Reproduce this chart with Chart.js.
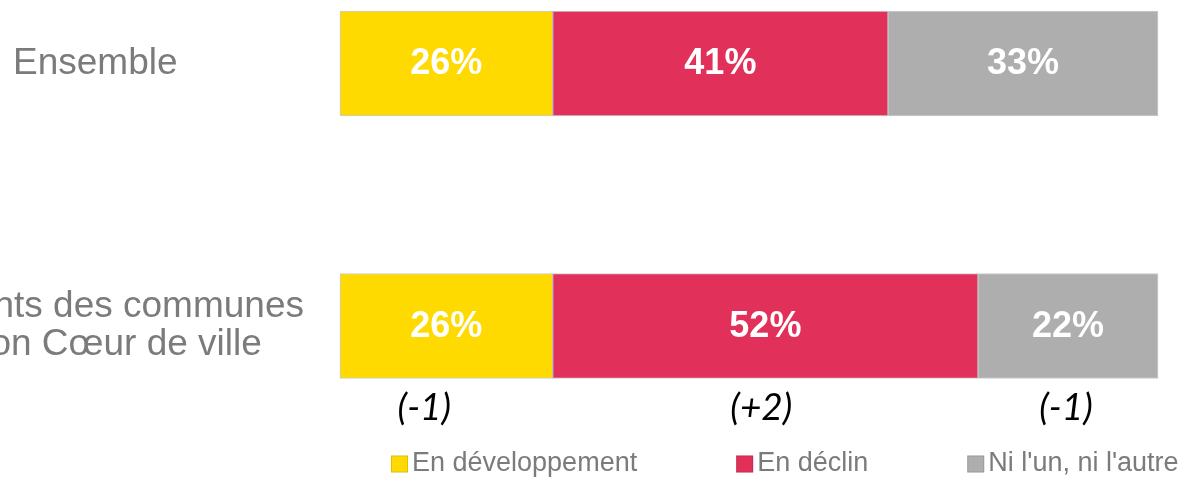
<!DOCTYPE html>
<html>
<head>
<meta charset="utf-8">
<script src="https://cdn.jsdelivr.net/npm/chart.js@4.4.1/dist/chart.umd.min.js"></script>
<style>
  html, body { margin: 0; padding: 0; background: #ffffff; }
  #wrap { position: relative; width: 1184px; height: 477px; overflow: hidden; }
</style>
</head>
<body>
<div id="wrap"><canvas id="chart"></canvas></div>
<script>
// ---- Data ----
const categories = ['Ensemble', ['Habitants des communes', 'Action Cœur de ville']];
const seriesNames = ['En développement', 'En déclin', "Ni l'un, ni l'autre"];
const enDeveloppement = [26, 26];
const enDeclin = [41, 52];
const niLunNiLautre = [33, 22];
const evolutionLastRow = ['(-1)', '(+2)', '(-1)'];
const xMin = 0;
const xMax = 100;

// ---- Styles ----
const colors = ['#FFDA00', '#E1315B', '#AEAEAE'];
const labelGray = '#7b7b7b';
const FONT = '"Liberation Sans", Arial, Helvetica, sans-serif';
const evolutionShiftX = [-22, -4, -2];

const valueLabels = {
  id: 'valueLabels',
  afterDatasetsDraw(chart) {
    const ctx = chart.ctx;
    ctx.save();
    ctx.textAlign = 'center';
    ctx.textBaseline = 'middle';
    ctx.font = 'bold 36px ' + FONT;
    ctx.fillStyle = '#ffffff';
    chart.data.datasets.forEach((ds, di) => {
      const meta = chart.getDatasetMeta(di);
      meta.data.forEach((el, i) => {
        const p = el.getCenterPoint();
        ctx.fillText(ds.data[i] + '%', p.x, p.y + 1);
      });
    });
    // evolution figures under the last row
    const last = categories.length - 1;
    ctx.font = 'italic 37px Lato, "Open Sans", sans-serif';
    ctx.fillStyle = '#000000';
    chart.data.datasets.forEach((ds, di) => {
      const el = chart.getDatasetMeta(di).data[last];
      const p = el.getCenterPoint();
      const props = el.getProps(['y', 'height'], true);
      ctx.fillText(evolutionLastRow[di], p.x + evolutionShiftX[di], props.y + props.height / 2 + 30);
    });
    ctx.restore();
  }
};

const customLegend = {
  id: 'customLegend',
  afterDraw(chart) {
    const ctx = chart.ctx;
    ctx.save();
    ctx.font = '27px ' + FONT;
    ctx.textBaseline = 'middle';
    ctx.textAlign = 'left';
    const box = 17, y = 464;
    let x = 391;
    chart.data.datasets.forEach(ds => {
      ctx.fillStyle = ds.backgroundColor;
      ctx.fillRect(x, y - box / 2, box, box);
      ctx.strokeStyle = 'rgba(0,0,0,0.12)';
      ctx.lineWidth = 1;
      ctx.strokeRect(x + 0.5, y - box / 2 + 0.5, box - 1, box - 1);
      const tx = x + box + 4;
      ctx.fillStyle = labelGray;
      ctx.fillText(ds.label, tx, y);
      x = tx + ctx.measureText(ds.label).width + 99;
    });
    ctx.restore();
  }
};

const seriesValues = [enDeveloppement, enDeclin, niLunNiLautre];

new Chart(document.getElementById('chart'), {
  type: 'bar',
  data: {
    labels: categories,
    datasets: seriesNames.map((name, i) => ({
      label: name,
      data: seriesValues[i],
      backgroundColor: colors[i],
      borderColor: 'rgba(110,110,110,0.35)',
      borderWidth: 1,
      borderSkipped: false,
      barThickness: 105,
      clip: false
    }))
  },
  options: {
    indexAxis: 'y',
    responsive: true,
    maintainAspectRatio: false,
    animation: false,
    layout: { padding: { left: 0, right: 26, top: 63.5, bottom: 151 } },
    scales: {
      x: {
        stacked: true,
        min: xMin,
        max: xMax,
        display: false
      },
      y: {
        stacked: true,
        offset: false,
        grid: { display: false, drawTicks: false, offset: false },
        border: { display: false },
        ticks: {
          autoSkip: false,
          crossAlign: 'center',
          padding: 36,
          color: labelGray,
          font: { family: FONT, size: 37, lineHeight: 1.03 }
        },
        afterFit(scale) {
          scale.width = 340;
          scale.paddingTop = 0;
          scale.paddingBottom = 0;
        }
      }
    },
    plugins: {
      legend: { display: false },
      tooltip: { enabled: false }
    }
  },
  plugins: [valueLabels, customLegend]
});
</script>
</body>
</html>
